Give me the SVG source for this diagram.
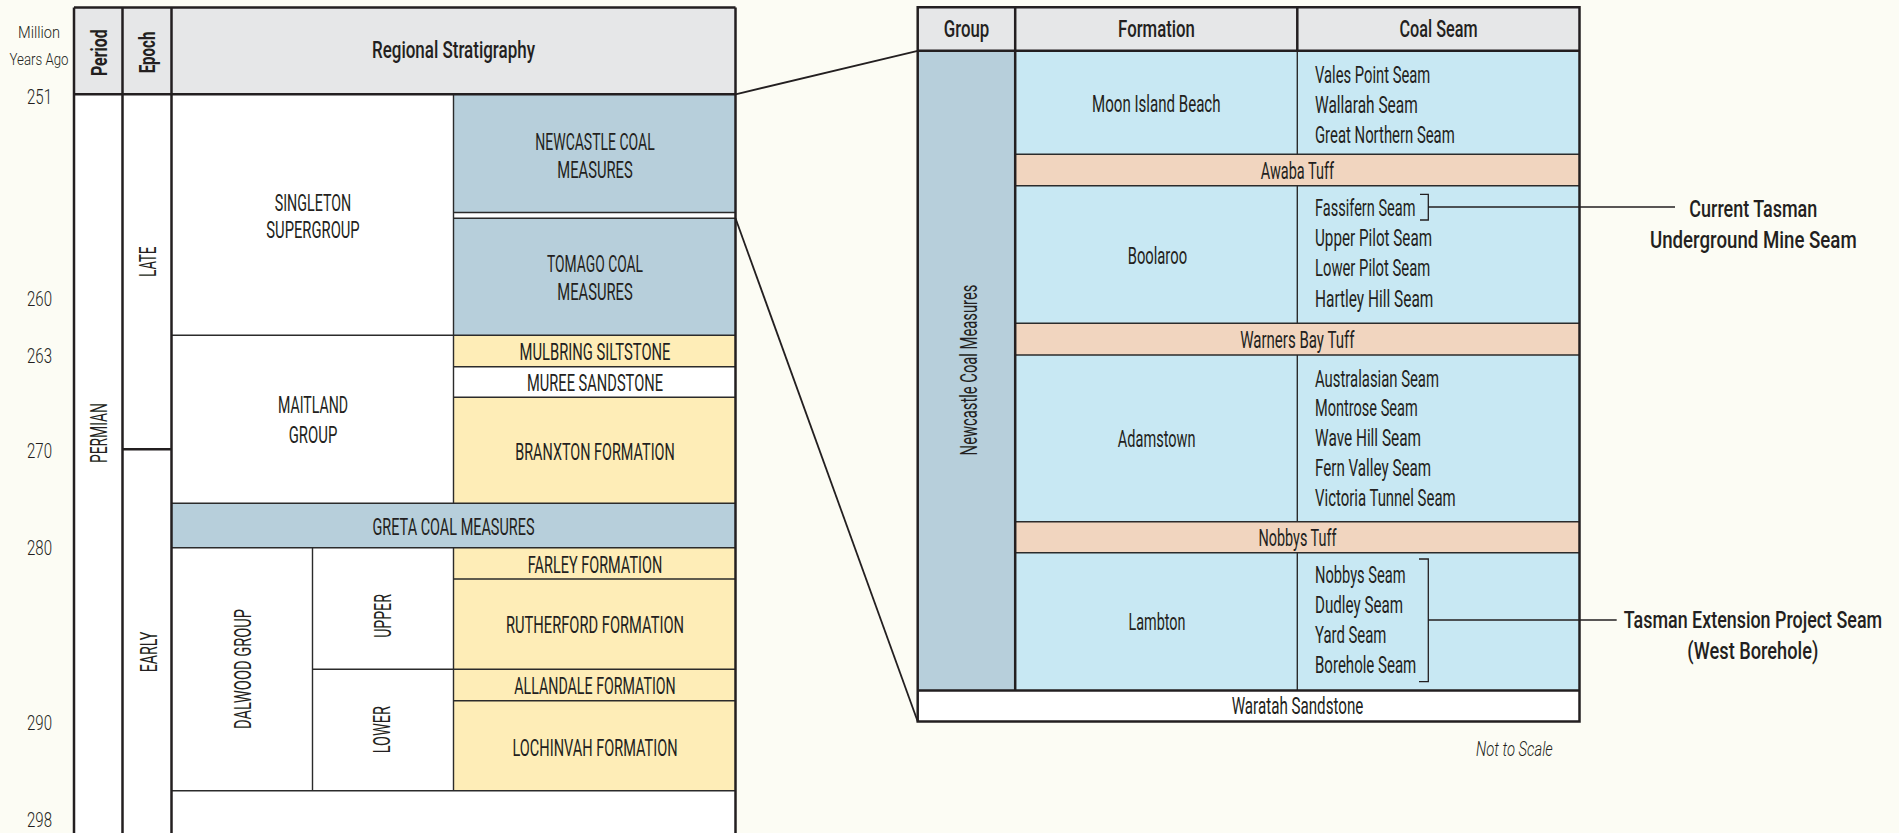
<svg xmlns="http://www.w3.org/2000/svg" width="1899" height="833" viewBox="0 0 1899 833">
<style>
.t{font-family:Roboto,'Liberation Sans',Arial,sans-serif;fill:#231F20;font-size:23px;font-weight:400}
.m{text-anchor:middle}
.h{font-weight:500;font-size:24px}
.lbl{font-weight:500;font-size:17px}
.b{font-weight:700;font-size:22px}
.age{font-size:20px;font-weight:300}
.sm{font-size:17px;font-weight:300}
.it{font-style:italic;font-size:21px;font-weight:300}
.thick{stroke:#231F20;stroke-width:2.5;fill:none}
.thin{stroke:#2b2b2b;stroke-width:1.4;fill:none}
.conn{stroke:#231F20;stroke-width:1.8;fill:none}
.lead{stroke:#231F20;stroke-width:1.3;fill:none}
.hdr{fill:#E6E7E8}
.blue{fill:#B7CFDB}
.yel{fill:#FEEDB7}
.wh{fill:#FFFFFF}
.lb{fill:#C8E8F3}
.tuff{fill:#F1D5BF}
</style>
<rect x="0" y="0" width="1899" height="833" fill="#FCFCF4"/>

<g id="age-axis">
<text class="t sm m" x="39" y="38.3" textLength="42" lengthAdjust="spacingAndGlyphs">Million</text>
<text class="t sm m" x="39" y="65" textLength="59" lengthAdjust="spacingAndGlyphs">Years Ago</text>
<text class="t age m" x="39.5" y="104" textLength="25" lengthAdjust="spacingAndGlyphs">251</text>
<text class="t age m" x="39.5" y="306" textLength="25" lengthAdjust="spacingAndGlyphs">260</text>
<text class="t age m" x="39.5" y="363" textLength="25" lengthAdjust="spacingAndGlyphs">263</text>
<text class="t age m" x="39.5" y="457.7" textLength="25" lengthAdjust="spacingAndGlyphs">270</text>
<text class="t age m" x="39.5" y="555" textLength="25" lengthAdjust="spacingAndGlyphs">280</text>
<text class="t age m" x="39.5" y="730" textLength="25" lengthAdjust="spacingAndGlyphs">290</text>
<text class="t age m" x="39.5" y="826.7" textLength="25" lengthAdjust="spacingAndGlyphs">298</text>
</g>

<g id="left-table">
<g id="left-header">
<rect class="hdr" x="74" y="7.5" width="661.5" height="86.8"/>
<text class="t b m" transform="translate(107.3 52.7) rotate(-90)" textLength="46.7" lengthAdjust="spacingAndGlyphs">Period</text>
<text class="t b m" transform="translate(155 52.5) rotate(-90)" textLength="41.7" lengthAdjust="spacingAndGlyphs">Epoch</text>
<text class="t h m" x="453.5" y="58.3" textLength="163" lengthAdjust="spacingAndGlyphs">Regional Stratigraphy</text>
</g>
<rect class="wh" x="74" y="94.3" width="661.5" height="745"/>
<g id="period-permian">
<text class="t m" transform="translate(106.7 433) rotate(-90)" textLength="60" lengthAdjust="spacingAndGlyphs">PERMIAN</text>
</g>
<g id="epoch-late">
<text class="t m" transform="translate(156 261.7) rotate(-90)" textLength="30" lengthAdjust="spacingAndGlyphs">LATE</text>
</g>
<g id="epoch-early">
<text class="t m" transform="translate(157 652) rotate(-90)" textLength="40.7" lengthAdjust="spacingAndGlyphs">EARLY</text>
</g>
<g id="singleton">
<text class="t m" x="313" y="210.7" textLength="76.5" lengthAdjust="spacingAndGlyphs">SINGLETON</text>
<text class="t m" x="313" y="238.3" textLength="93.4" lengthAdjust="spacingAndGlyphs">SUPERGROUP</text>
</g>
<g id="newcastle">
<rect class="blue" x="453.5" y="94.3" width="282" height="118.2"/>
<text class="t m" x="595" y="150" textLength="119.4" lengthAdjust="spacingAndGlyphs">NEWCASTLE COAL</text>
<text class="t m" x="595" y="178.3" textLength="75.5" lengthAdjust="spacingAndGlyphs">MEASURES</text>
</g>
<g id="tomago">
<rect class="blue" x="453.5" y="218.3" width="282" height="117"/>
<text class="t m" x="595" y="272.3" textLength="96" lengthAdjust="spacingAndGlyphs">TOMAGO COAL</text>
<text class="t m" x="595" y="300" textLength="75.5" lengthAdjust="spacingAndGlyphs">MEASURES</text>
</g>
<g id="maitland">
<text class="t m" x="313" y="413.3" textLength="70" lengthAdjust="spacingAndGlyphs">MAITLAND</text>
<text class="t m" x="313" y="443.3" textLength="48.6" lengthAdjust="spacingAndGlyphs">GROUP</text>
</g>
<g id="mulbring">
<rect class="yel" x="453.5" y="335.3" width="282" height="31.4"/>
<text class="t m" x="595" y="360" textLength="151" lengthAdjust="spacingAndGlyphs">MULBRING SILTSTONE</text>
</g>
<g id="muree">
<text class="t m" x="595" y="390.7" textLength="136" lengthAdjust="spacingAndGlyphs">MUREE SANDSTONE</text>
</g>
<g id="branxton">
<rect class="yel" x="453.5" y="397.3" width="282" height="106"/>
<text class="t m" x="595" y="460" textLength="159.5" lengthAdjust="spacingAndGlyphs">BRANXTON FORMATION</text>
</g>
<g id="greta">
<rect class="blue" x="171.5" y="503.3" width="564" height="44.4"/>
<text class="t m" x="453.5" y="535" textLength="162" lengthAdjust="spacingAndGlyphs">GRETA COAL MEASURES</text>
</g>
<g id="dalwood">
<text class="t m" transform="translate(251 669) rotate(-90)" textLength="120" lengthAdjust="spacingAndGlyphs">DALWOOD GROUP</text>
</g>
<g id="upper">
<text class="t m" transform="translate(390.5 616) rotate(-90)" textLength="43.7" lengthAdjust="spacingAndGlyphs">UPPER</text>
</g>
<g id="lower">
<text class="t m" transform="translate(389.5 729.7) rotate(-90)" textLength="47.3" lengthAdjust="spacingAndGlyphs">LOWER</text>
</g>
<g id="farley">
<rect class="yel" x="453.5" y="547.7" width="282" height="31.3"/>
<text class="t m" x="595" y="572.7" textLength="134.5" lengthAdjust="spacingAndGlyphs">FARLEY FORMATION</text>
</g>
<g id="rutherford">
<rect class="yel" x="453.5" y="579" width="282" height="90.3"/>
<text class="t m" x="595" y="633.3" textLength="178" lengthAdjust="spacingAndGlyphs">RUTHERFORD FORMATION</text>
</g>
<g id="allandale">
<rect class="yel" x="453.5" y="669.3" width="282" height="31.4"/>
<text class="t m" x="595" y="694.3" textLength="161.4" lengthAdjust="spacingAndGlyphs">ALLANDALE FORMATION</text>
</g>
<g id="lochinvah">
<rect class="yel" x="453.5" y="700.7" width="282" height="90"/>
<text class="t m" x="595" y="755.7" textLength="165" lengthAdjust="spacingAndGlyphs">LOCHINVAH FORMATION</text>
</g>
<g id="left-lines">
<path class="thin" d="M453.5 212.5H735.5M453.5 218.3H735.5M171.5 335.3H735.5M453.5 366.7H735.5M453.5 397.3H735.5M171.5 503.3H735.5M171.5 547.7H735.5M453.5 579H735.5M312.5 669.3H735.5M453.5 700.7H735.5M171.5 790.7H735.5M453.5 94.3V503.3M453.5 547.7V790.7M312.5 547.7V790.7"/>
<path class="thick" d="M74 7.5H735.5M74 94.3H735.5M74 7.5V840M122.5 7.5V840M171.5 7.5V840M735.5 7.5V840M122.5 449.3H171.5"/>
</g>
</g>

<g id="right-table">
<g id="right-header">
<rect class="hdr" x="917.7" y="7.3" width="661.8" height="43.5"/>
<text class="t h m" x="966.5" y="36.7" textLength="45.5" lengthAdjust="spacingAndGlyphs">Group</text>
<text class="t h m" x="1156.5" y="37.3" textLength="76.8" lengthAdjust="spacingAndGlyphs">Formation</text>
<text class="t h m" x="1438.5" y="37.3" textLength="78" lengthAdjust="spacingAndGlyphs">Coal Seam</text>
</g>
<g id="group-newcastle">
<rect class="blue" x="917.7" y="50.8" width="97.5" height="639.7"/>
<text class="t m" transform="translate(976.8 370) rotate(-90)" textLength="170.8" lengthAdjust="spacingAndGlyphs">Newcastle Coal Measures</text>
</g>
<g id="moon-island-beach">
<rect class="lb" x="1015.2" y="50.8" width="564.3" height="103.5"/>
<text class="t m" x="1156.3" y="112.3" textLength="128.5" lengthAdjust="spacingAndGlyphs">Moon Island Beach</text>
<text class="t" x="1315" y="82.7" textLength="115.2" lengthAdjust="spacingAndGlyphs">Vales Point Seam</text>
<text class="t" x="1315" y="113" textLength="102.7" lengthAdjust="spacingAndGlyphs">Wallarah Seam</text>
<text class="t" x="1315" y="143.3" textLength="139.7" lengthAdjust="spacingAndGlyphs">Great Northern Seam</text>
</g>
<g id="awaba-tuff">
<rect class="tuff" x="1015.2" y="154.3" width="564.3" height="31.4"/>
<text class="t m" x="1297.4" y="178.5" textLength="73.2" lengthAdjust="spacingAndGlyphs">Awaba Tuff</text>
</g>
<g id="boolaroo">
<rect class="lb" x="1015.2" y="185.7" width="564.3" height="137.6"/>
<text class="t m" x="1157.4" y="264" textLength="59.4" lengthAdjust="spacingAndGlyphs">Boolaroo</text>
<text class="t" x="1315" y="216" textLength="100.4" lengthAdjust="spacingAndGlyphs">Fassifern Seam</text>
<text class="t" x="1315" y="246" textLength="117" lengthAdjust="spacingAndGlyphs">Upper Pilot Seam</text>
<text class="t" x="1315" y="276.3" textLength="115.2" lengthAdjust="spacingAndGlyphs">Lower Pilot Seam</text>
<text class="t" x="1315" y="306.5" textLength="118.3" lengthAdjust="spacingAndGlyphs">Hartley Hill Seam</text>
</g>
<g id="warners-bay-tuff">
<rect class="tuff" x="1015.2" y="323.3" width="564.3" height="31.7"/>
<text class="t m" x="1297.3" y="347.5" textLength="114.3" lengthAdjust="spacingAndGlyphs">Warners Bay Tuff</text>
</g>
<g id="adamstown">
<rect class="lb" x="1015.2" y="355" width="564.3" height="166.7"/>
<text class="t m" x="1156.7" y="446.7" textLength="77.7" lengthAdjust="spacingAndGlyphs">Adamstown</text>
<text class="t" x="1315" y="386.5" textLength="124" lengthAdjust="spacingAndGlyphs">Australasian Seam</text>
<text class="t" x="1315" y="415.5" textLength="102.7" lengthAdjust="spacingAndGlyphs">Montrose Seam</text>
<text class="t" x="1315" y="445.5" textLength="106" lengthAdjust="spacingAndGlyphs">Wave Hill Seam</text>
<text class="t" x="1315" y="475.5" textLength="116" lengthAdjust="spacingAndGlyphs">Fern Valley Seam</text>
<text class="t" x="1315" y="506" textLength="140.6" lengthAdjust="spacingAndGlyphs">Victoria Tunnel Seam</text>
</g>
<g id="nobbys-tuff">
<rect class="tuff" x="1015.2" y="521.7" width="564.3" height="31"/>
<text class="t m" x="1297.5" y="545.5" textLength="78" lengthAdjust="spacingAndGlyphs">Nobbys Tuff</text>
</g>
<g id="lambton">
<rect class="lb" x="1015.2" y="552.7" width="564.3" height="137.8"/>
<text class="t m" x="1157" y="630" textLength="57" lengthAdjust="spacingAndGlyphs">Lambton</text>
<text class="t" x="1315" y="582.7" textLength="90.6" lengthAdjust="spacingAndGlyphs">Nobbys Seam</text>
<text class="t" x="1315" y="612.7" textLength="88" lengthAdjust="spacingAndGlyphs">Dudley Seam</text>
<text class="t" x="1315" y="642.7" textLength="71.4" lengthAdjust="spacingAndGlyphs">Yard Seam</text>
<text class="t" x="1315" y="673" textLength="101.3" lengthAdjust="spacingAndGlyphs">Borehole Seam</text>
</g>
<g id="waratah">
<rect class="wh" x="917.7" y="690.5" width="661.8" height="31"/>
<text class="t m" x="1297.5" y="714" textLength="131.7" lengthAdjust="spacingAndGlyphs">Waratah Sandstone</text>
</g>
<g id="right-lines">
<path class="thin" d="M1015.2 154.3H1579.5M1015.2 185.7H1579.5M1015.2 323.3H1579.5M1015.2 355H1579.5M1015.2 521.7H1579.5M1015.2 552.7H1579.5M1297.3 50.8V154.3M1297.3 185.7V323.3M1297.3 355V521.7M1297.3 552.7V690.5"/>
<path class="thick" d="M917.7 7.3H1579.5V721.5H917.7ZM917.7 50.8H1579.5M917.7 690.5H1579.5M1015.2 7.3V690.5M1297.3 7.3V50.8"/>
</g>
<text class="t it" x="1476" y="756" textLength="76.8" lengthAdjust="spacingAndGlyphs">Not to Scale</text>
</g>

<g id="connectors">
<line class="conn" x1="735.5" y1="94.3" x2="917.7" y2="50.8"/>
<line class="conn" x1="735.5" y1="218.3" x2="917.7" y2="721.5"/>
<path class="lead" d="M1420 194.3H1428.3V220H1420M1428.3 207H1675"/>
<path class="lead" d="M1419 559H1428.3V681.7H1419M1428.3 620H1616.7"/>
</g>

<g id="label-current">
<text class="t lbl m" transform="translate(1753.3 216.7) scale(1 1.41)" textLength="128" lengthAdjust="spacingAndGlyphs">Current Tasman</text>
<text class="t lbl m" transform="translate(1753.3 248.3) scale(1 1.41)" textLength="206.7" lengthAdjust="spacingAndGlyphs">Underground Mine Seam</text>
</g>
<g id="label-extension">
<text class="t lbl m" transform="translate(1753 628.3) scale(1 1.41)" textLength="258.3" lengthAdjust="spacingAndGlyphs">Tasman Extension Project Seam</text>
<text class="t lbl m" transform="translate(1752.8 659) scale(1 1.41)" textLength="131" lengthAdjust="spacingAndGlyphs">(West Borehole)</text>
</g>
</svg>
